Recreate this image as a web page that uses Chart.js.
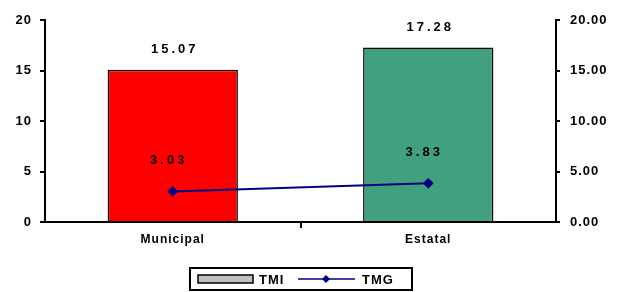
<!DOCTYPE html>
<html>
<head>
<meta charset="utf-8">
<script src="https://cdn.jsdelivr.net/npm/chart.js@4.4.1/dist/chart.umd.min.js"></script>
<style>
html,body{margin:0;padding:0;background:#fff;}
#wrap{width:619px;height:292px;position:relative;}
</style>
</head>
<body>
<div id="wrap"><canvas id="c" width="619" height="292"></canvas></div>
<script>
const categories = ["Municipal", "Estatal"];
const tmiValues = [15.07, 17.28];
const tmgValues = [3.03, 3.83];
const seriesNames = ["TMI", "TMG"];

const FONT = "'Liberation Sans', Arial, sans-serif";

const spacingPlugin = {
  id: 'spacing',
  beforeLayout(chart){ chart.ctx.letterSpacing = '1px'; },
  beforeDraw(chart){ chart.ctx.letterSpacing = '1px'; }
};

const labelPlugin = {
  id: 'valueLabels',
  afterDatasetsDraw(chart){
    const ctx = chart.ctx;
    ctx.save();
    ctx.letterSpacing = '3px';
    ctx.fillStyle = '#000';
    ctx.font = "bold 13px " + FONT;
    ctx.textAlign = 'center';
    ctx.textBaseline = 'middle';
    const barMeta = chart.getDatasetMeta(0);
    barMeta.data.forEach((el, i) => {
      ctx.fillText(tmiValues[i].toFixed(2), el.x + 2, el.y - 20);
    });
    const lineMeta = chart.getDatasetMeta(1);
    lineMeta.data.forEach((el, i) => {
      ctx.fillText(tmgValues[i].toFixed(2), el.x - 4, el.y - 31);
    });
    ctx.restore();
  }
};

const legendPlugin = {
  id: 'customLegend',
  afterDraw(chart){
    const ctx = chart.ctx;
    ctx.save();
    const x0 = 190, y0 = 268, w = 222, h = 22;
    ctx.strokeStyle = '#000';
    ctx.lineWidth = 2;
    ctx.strokeRect(x0, y0, w, h);
    const cy = y0 + h/2;
    ctx.fillStyle = '#c0c0c0';
    ctx.fillRect(198, cy - 4, 55, 8);
    ctx.lineWidth = 1.5;
    ctx.strokeRect(198, cy - 4, 55, 8);
    ctx.fillStyle = '#000';
    ctx.font = "bold 13px " + FONT;
    ctx.letterSpacing = '1px';
    ctx.textAlign = 'left';
    ctx.textBaseline = 'middle';
    ctx.fillText(chart.data.datasets[0].label, 259, cy + 1);
    const ds = chart.data.datasets[1];
    ctx.strokeStyle = ds.borderColor;
    ctx.lineWidth = 1.5;
    ctx.beginPath();
    ctx.moveTo(298, cy); ctx.lineTo(355, cy);
    ctx.stroke();
    ctx.fillStyle = ds.pointBackgroundColor;
    ctx.beginPath();
    ctx.moveTo(326, cy - 4); ctx.lineTo(330, cy); ctx.lineTo(326, cy + 4); ctx.lineTo(322, cy);
    ctx.closePath(); ctx.fill();
    ctx.fillStyle = '#000';
    ctx.fillText(ds.label, 362, cy + 1);
    ctx.restore();
  }
};

new Chart(document.getElementById('c'), {
  data: {
    labels: categories,
    datasets: [
      {
        type: 'bar',
        label: seriesNames[0],
        data: tmiValues,
        backgroundColor: ['#ff0000', '#41a080'],
        borderColor: '#000',
        borderWidth: 1.5,
        barPercentage: 0.51,
        categoryPercentage: 1.0,
        yAxisID: 'y',
        order: 2
      },
      {
        type: 'line',
        label: seriesNames[1],
        data: tmgValues,
        borderColor: '#000080',
        backgroundColor: '#000080',
        pointBackgroundColor: '#000080',
        pointBorderColor: '#000080',
        pointStyle: 'rectRot',
        pointRadius: 4,
        borderWidth: 2,
        yAxisID: 'y2',
        order: 1
      }
    ]
  },
  options: {
    responsive: false,
    animation: false,
    devicePixelRatio: 1,
    layout: { padding: { top: 20, bottom: 30, left: 0, right: 0 } },
    plugins: { legend: { display: false }, tooltip: { enabled: false } },
    scales: {
      x: {
        offset: true,
        grid: { display: true, drawOnChartArea: false, drawTicks: true, tickLength: 6, offset: true,
                color: c => (c.index === 1 ? '#000' : 'rgba(0,0,0,0)'), lineWidth: 2 },
        border: { color: '#000', width: 2 },
        ticks: { color: '#000', font: { family: FONT, size: 12, weight: 'bold' }, padding: 4 },
        afterFit(s){ s.height = 40; }
      },
      y: {
        position: 'left',
        min: 0, max: 20,
        ticks: { stepSize: 5, color: '#000', font: { family: FONT, size: 13, weight: 'bold' }, padding: 8 },
        grid: { drawOnChartArea: false, drawTicks: true, tickLength: 5, color: '#000', lineWidth: 2 },
        border: { color: '#000', width: 2 },
        afterFit(s){ s.width = 45; }
      },
      y2: {
        position: 'right',
        min: 0, max: 20,
        ticks: { stepSize: 5, color: '#000', font: { family: FONT, size: 13, weight: 'bold' }, padding: 10,
                 callback: v => Number(v).toFixed(2) },
        grid: { drawOnChartArea: false, drawTicks: true, tickLength: 4, color: '#000', lineWidth: 2 },
        border: { color: '#000', width: 2 },
        afterFit(s){ s.width = 63; }
      }
    }
  },
  plugins: [spacingPlugin, labelPlugin, legendPlugin]
});
</script>
</body>
</html>
